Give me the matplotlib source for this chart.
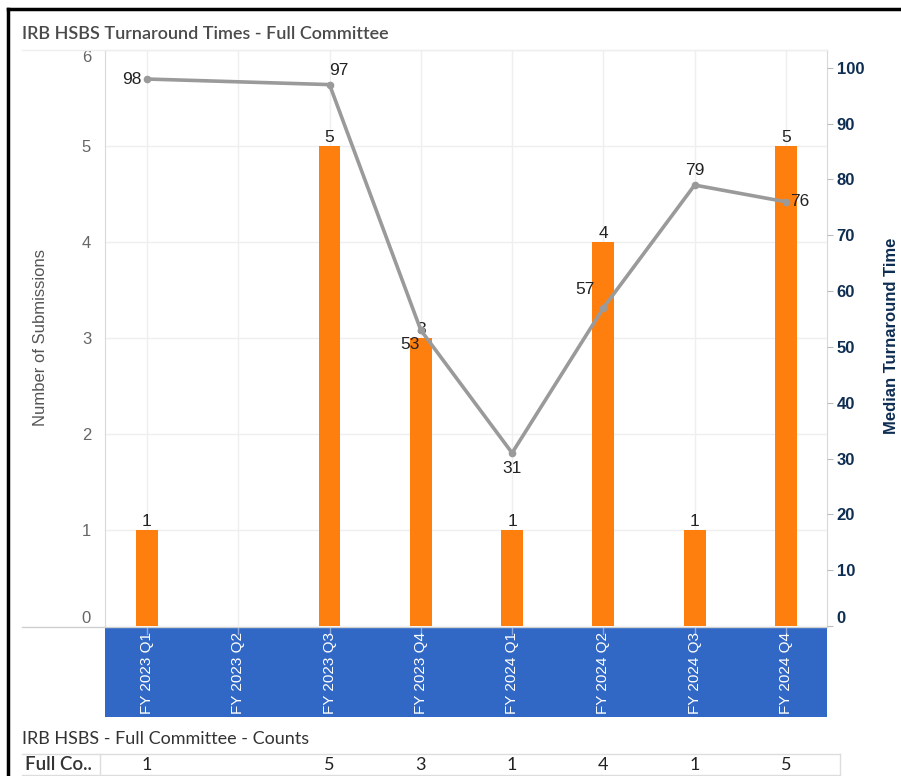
import numpy as np
import matplotlib.pyplot as plt
from matplotlib.lines import Line2D
from matplotlib.transforms import blended_transform_factory

plt.rcParams['font.family'] = ['Liberation Sans', 'DejaVu Sans']

quarters = ['FY 2023 Q1', 'FY 2023 Q2', 'FY 2023 Q3', 'FY 2023 Q4',
            'FY 2024 Q1', 'FY 2024 Q2', 'FY 2024 Q3', 'FY 2024 Q4']
submissions = [1, None, 5, 3, 1, 4, 1, 5]
median_days = [98, None, 97, 53, 31, 57, 79, 76]

# label placement for the line values (offset points, ha, va)
line_lbl = [(-4, 0, 'right', 'center'), None, (0, 5, 'left', 'bottom'),
            (-1, -10, 'right', 'center'), (0, -6, 'center', 'top'),
            (-6, 8, 'right', 'bottom'), (0, 5, 'center', 'bottom'),
            (3, 0, 'left', 'center')]

W, H = 901, 776
fig = plt.figure(figsize=(W / 100, H / 100), dpi=100)

def fx(px):
    return px / W

def fy(py):
    return 1 - py / H

orange = '#ff7f0e'
gray_line = '#9a9a9a'
navy = '#0e2d52'
blue = '#3168c5'
grid_c = '#efefef'
border_c = '#d9d9d9'
tbl_font = ['Lato', 'DejaVu Sans']

x = np.arange(len(quarters))
xlim = (-0.46, 7.45)

ax = fig.add_axes([fx(105), fy(626), fx(827 - 105), (626 - 50) / H])
ax.set_xlim(*xlim)
ax.set_ylim(0, 6)
bx = [i for i, v in enumerate(submissions) if v is not None]
bv = [v for v in submissions if v is not None]
ax.bar(bx, bv, width=0.24, color=orange, zorder=3)
for i, v in zip(bx, bv):
    ax.annotate(str(v), (i, v), xytext=(0, 1), textcoords='offset points',
                ha='center', va='bottom', fontsize=12.5, color='#222222', zorder=6)

ax.set_yticks(range(7))
ax.tick_params(axis='y', length=0, labelsize=12, labelcolor='#666666', pad=10)
ax.set_xticks(x)
ax.tick_params(axis='x', length=0, labelbottom=False)
ax.grid(True, color=grid_c, linewidth=1, zorder=0)
for s in ['top', 'left', 'right']:
    ax.spines[s].set_color(border_c)
ax.spines['bottom'].set_visible(False)
ylabs = ax.get_yticklabels()
ylabs[0].set_va('bottom')
ylabs[-1].set_va('top')
ax.set_ylabel('Number of Submissions', fontsize=12, color='#555555', labelpad=24)

ax2 = ax.twinx()
ax2.set_ylim(0, 103.2)
lx = [i for i, v in enumerate(median_days) if v is not None]
lv = [v for v in median_days if v is not None]
ax2.plot(lx, lv, color=gray_line, linewidth=2.6, marker='o', markersize=4.5, zorder=4)
for i, v in enumerate(median_days):
    if v is None:
        continue
    dx, dy, ha, va = line_lbl[i]
    ax2.annotate(str(v), (i, v), xytext=(dx, dy), textcoords='offset points',
                 ha=ha, va=va, fontsize=12.5, color='#222222', zorder=6)
ax2.set_yticks(range(0, 101, 10))
ax2.tick_params(axis='y', length=4, color='#bbbbbb', labelsize=12, labelcolor=navy, pad=3)
for lab in ax2.get_yticklabels():
    lab.set_fontweight('bold')
ax2.get_yticklabels()[0].set_va('bottom')
for s in ax2.spines.values():
    s.set_visible(False)

fig.text(fx(892), fy(336), 'Median Turnaround Time', rotation=90, ha='center', va='center',
         fontsize=12, fontweight='bold', color=navy)

# zero line and top line extended to the left edge of the view
fig.add_artist(Line2D([fx(22), fx(827)], [fy(627), fy(627)], color='#cfcfcf', linewidth=1))
fig.add_artist(Line2D([fx(22), fx(827)], [fy(50), fy(50)], color=grid_c, linewidth=1))

# blue category header band
band = fig.add_axes([fx(105), fy(717), fx(827 - 105), (717 - 628) / H])
band.set_facecolor(blue)
band.set_xlim(*xlim)
band.set_ylim(0, 1)
band.set_xticks([])
band.set_yticks([])
for s in band.spines.values():
    s.set_visible(False)
for i, q in enumerate(quarters):
    band.text(i, 0.5, q, rotation=90, ha='center', va='center', color='white', fontsize=11)
    band.plot([i, i], [1, 0.93], color='#8aa8de', linewidth=1)

# title
fig.text(fx(22), fy(34), 'IRB HSBS Turnaround Times - Full Committee', fontsize=13,
         color='#4a4a4a', fontweight='semibold', family=tbl_font, va='center')

# counts table below
fig.text(fx(22), fy(739), 'IRB HSBS - Full Committee - Counts', fontsize=13,
         color='#333333', family=tbl_font, va='center')
fig.add_artist(Line2D([fx(22), fx(840)], [fy(754), fy(754)], color='#dddddd', linewidth=1))
fig.add_artist(Line2D([fx(22), fx(840)], [fy(775), fy(775)], color='#dddddd', linewidth=1))
fig.add_artist(Line2D([fx(100), fx(100)], [fy(754), fy(775)], color='#dddddd', linewidth=1))
fig.add_artist(Line2D([fx(840), fx(840)], [fy(754), fy(775)], color='#dddddd', linewidth=1))
fig.text(fx(25), fy(765), 'Full Co..', fontsize=13.5, color='#333333',
         family=tbl_font, fontweight='semibold', va='center')
tr = blended_transform_factory(ax.transData, fig.transFigure)
for i, v in enumerate(submissions):
    if v is not None:
        fig.text(i, fy(765), str(v), transform=tr, ha='center', va='center',
                 fontsize=13, color='#222222', family=tbl_font)

# dark frame on the left and top
fig.add_artist(Line2D([fx(8), fx(8)], [fy(9), 0], color='black', linewidth=2.5))
fig.add_artist(Line2D([fx(8), 1], [fy(9), fy(9)], color='black', linewidth=2.5))

fig.savefig('out.png', dpi=100)
